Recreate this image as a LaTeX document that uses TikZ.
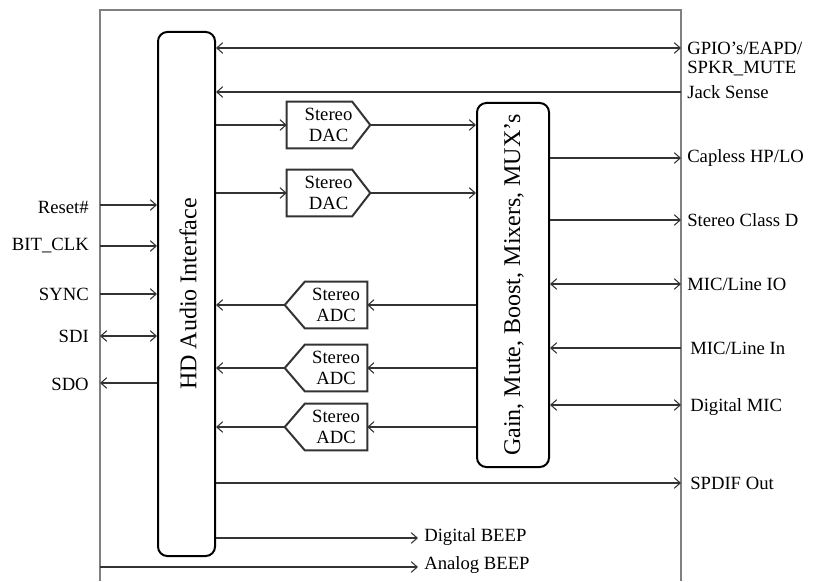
\documentclass[tikz,border=0pt]{standalone}
\usepackage{fontspec}
\setmainfont{Liberation Serif}
\usetikzlibrary{arrows.meta}
\begin{document}
\begin{tikzpicture}[x=0.75pt,y=-0.75pt,
  >={Straight Barb[length=4.5pt,width=8pt]},
  conn/.style={draw=black!80, line width=0.8pt},
  bigbox/.style={draw=black, line width=1.5pt, rounded corners=7pt, inner sep=0pt},
  body/.style={inner sep=0pt, minimum height=34.5pt, align=center, font=\fontsize{14}{16}\selectfont},
  outline/.style={draw=black!80, line width=1.5pt, line join=miter},
  lbl/.style={inner sep=0pt, font=\fontsize{14}{16}\selectfont},
  big/.style={inner sep=0pt, rotate=90, font=\fontsize{18}{20}\selectfont}
]
\useasboundingbox (0,0) rectangle (816,581);

% outer frame
\draw[draw=black!50, line width=1.5pt] (100,581) -- (100,10) -- (681,10) -- (681,581);

% main blocks
\node[bigbox, minimum width=42.75pt, minimum height=393pt] (hd) at (186.5,294) {};
\node[big] (hdtext) at (188,294) {HD Audio Interface};
\node[bigbox, minimum width=54pt, minimum height=273pt] (gain) at (513,285) {};
\node[big] (gaintext) at (514,285) {Gain, Mute, Boost, Mixers, MUX’s};

% DACs
\node[body, minimum width=62.25pt] (dac1) at (328.5,125) {Stereo\\DAC};
\node[body, minimum width=62.25pt] (dac2) at (328.5,193) {Stereo\\DAC};
\foreach \d in {dac1,dac2}{
  \draw[outline] (\d.north west) -- ([xshift=-13.5pt]\d.north east) -- (\d.east)
     -- ([xshift=-13.5pt]\d.south east) -- (\d.south west) -- cycle;
}

% ADCs
\node[body, minimum width=46.5pt] (adc1) at (336,305) {Stereo\\ADC};
\node[body, minimum width=46.5pt] (adc2) at (336,368) {Stereo\\ADC};
\node[body, minimum width=46.5pt] (adc3) at (336,427) {Stereo\\ADC};
\foreach \a in {adc1,adc2,adc3}{
  \coordinate (\a tip) at ([xshift=-15pt]\a.west);
  \draw[outline] (\a.north east) -- (\a.south east) -- (\a.south west)
     -- (\a tip) -- (\a.north west) -- cycle;
}

% border coordinates
\coordinate (gpio) at (681,48);
\coordinate (jack) at (681,92);
\coordinate (cap) at (681,158);
\coordinate (classd) at (681,220);
\coordinate (micio) at (681,284);
\coordinate (micin) at (681,348);
\coordinate (dmic) at (681,405);
\coordinate (spdif) at (681,483);
\coordinate (dbeep) at (418,538);
\coordinate (abeepA) at (100,567);
\coordinate (abeepB) at (418,567);
\coordinate (rst) at (100,205);
\coordinate (bclk) at (100,246);
\coordinate (sync) at (100,294);
\coordinate (sdi) at (100,336);
\coordinate (sdo) at (100,383);

% right labels
\node[lbl, anchor=west] (lgpio) at (687,48) {GPIO’s/EAPD/};
\node[lbl, anchor=west] (lspkr) at (687,69) {SPKR\_MUTE};
\node[lbl, anchor=west] (ljack) at (687,92) {Jack Sense};
\node[lbl, anchor=west] (lcap) at (687,158) {Capless HP/LO};
\node[lbl, anchor=west] (lclassd) at (687,220) {Stereo Class D};
\node[lbl, anchor=west] (lmicio) at (687,284) {MIC/Line IO};
\node[lbl, anchor=west] (lmicin) at (690,348) {MIC/Line In};
\node[lbl, anchor=west] (ldmic) at (690,407) {Digital MIC};
\node[lbl, anchor=west] (lspdif) at (690,483) {SPDIF Out};
\node[lbl, anchor=west] (ldbeep) at (424,537) {Digital BEEP};
\node[lbl, anchor=west] (labeep) at (424,565) {Analog BEEP};

% left labels
\node[lbl, anchor=east] (lrst) at (89,207) {Reset\#};
\node[lbl, anchor=east] (lbclk) at (89,246) {BIT\_CLK};
\node[lbl, anchor=east] (lsync) at (89,294) {SYNC};
\node[lbl, anchor=east] (lsdi) at (89,336) {SDI};
\node[lbl, anchor=east] (lsdo) at (89,384) {SDO};

% connectors: HD interface
\draw[conn,<->] (hd.east |- gpio) -- (gpio);
\draw[conn,->] (jack) -- (hd.east |- jack);
\draw[conn,->] (hd.east |- dac1) -- (dac1.west);
\draw[conn,->] (hd.east |- dac2) -- (dac2.west);
\draw[conn,->] (dac1.east) -- (gain.west |- dac1);
\draw[conn,->] (dac2.east) -- (gain.west |- dac2);
\draw[conn,->] (gain.west |- adc1) -- (adc1.east);
\draw[conn,->] (gain.west |- adc2) -- (adc2.east);
\draw[conn,->] (gain.west |- adc3) -- (adc3.east);
\draw[conn,->] (adc1tip) -- (hd.east |- adc1tip);
\draw[conn,->] (adc2tip) -- (hd.east |- adc2tip);
\draw[conn,->] (adc3tip) -- (hd.east |- adc3tip);
\draw[conn,->] (hd.east |- spdif) -- (spdif);
\draw[conn,->] (hd.east |- dbeep) -- (dbeep);
\draw[conn,->] (abeepA) -- (abeepB);

% connectors: gain block
\draw[conn,->] (gain.east |- cap) -- (cap);
\draw[conn,->] (gain.east |- classd) -- (classd);
\draw[conn,<->] (gain.east |- micio) -- (micio);
\draw[conn,->] (micin) -- (gain.east |- micin);
\draw[conn,<->] (gain.east |- dmic) -- (dmic);

% connectors: left side
\draw[conn,->] (rst) -- (hd.west |- rst);
\draw[conn,->] (bclk) -- (hd.west |- bclk);
\draw[conn,->] (sync) -- (hd.west |- sync);
\draw[conn,<->] (sdi) -- (hd.west |- sdi);
\draw[conn,->] (hd.west |- sdo) -- (sdo);
\end{tikzpicture}
\end{document}
